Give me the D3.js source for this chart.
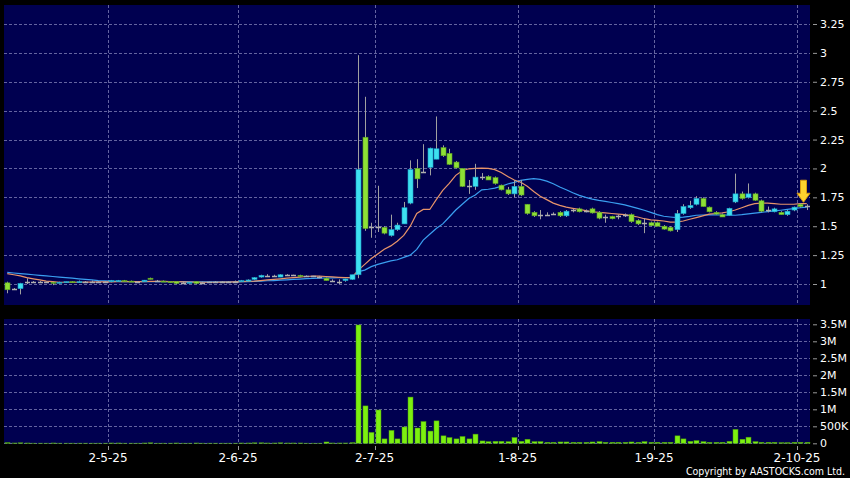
<!DOCTYPE html>
<html><head><meta charset="utf-8">
<script src="https://cdn.jsdelivr.net/npm/d3@7"></script>
<style>html,body{margin:0;padding:0;background:#000;}svg{display:block;}</style>
</head><body>
<svg id="c" width="850" height="478"></svg>
<script>
const opens = [1.01,0.96,0.96,1.02,1.02,1.015,1.02,1.015,1.01,1.015,1.02,1.015,1.02,1.02,1.02,1.02,1.02,1.02,1.03,1.025,1.02,1.02,1.05,1.03,1.025,1.02,1.02,1.01,1.01,1.02,1.01,1.015,1.02,1.02,1.02,1.02,1.02,1.025,1.04,1.06,1.07,1.07,1.06,1.075,1.075,1.075,1.065,1.065,1.06,1.05,1.03,1.02,1.03,1.04,
1.08,2.27,1.49,1.49,1.49,1.42,1.47,1.52,1.70,2.00,1.965,2.01,2.08,2.18,2.13,2.055,2.00,1.85,1.845,1.925,1.93,1.92,1.855,1.815,1.78,1.845,1.69,1.62,1.60,1.60,1.61,1.62,1.59,1.64,1.65,1.63,1.65,1.62,1.58,1.585,1.59,1.595,1.60,1.55,1.53,1.53,1.53,1.50,1.49,1.47,1.61,1.66,1.69,1.74,1.665,1.62,1.60,1.595,1.71,1.78,1.75,1.78,1.72,1.64,1.625,1.62,1.60,1.64,1.69,1.675];
const highs = [1.02,0.965,1.01,1.05,1.025,1.025,1.02,1.02,1.02,1.02,1.025,1.03,1.025,1.03,1.025,1.025,1.035,1.035,1.035,1.03,1.025,1.035,1.055,1.035,1.03,1.025,1.025,1.02,1.02,1.025,1.02,1.02,1.025,1.025,1.025,1.03,1.035,1.04,1.06,1.08,1.085,1.08,1.085,1.085,1.08,1.08,1.075,1.07,1.07,1.055,1.04,1.04,1.045,1.08,
2.98,2.62,1.53,1.85,1.50,1.60,1.53,1.71,2.07,2.08,2.21,2.18,2.45,2.20,2.17,2.065,2.00,1.90,2.04,1.96,1.94,1.93,1.86,1.84,1.90,1.90,1.69,1.63,1.64,1.62,1.62,1.63,1.64,1.65,1.66,1.645,1.66,1.63,1.60,1.59,1.60,1.61,1.61,1.56,1.57,1.54,1.54,1.51,1.50,1.64,1.69,1.72,1.76,1.75,1.67,1.63,1.61,1.66,1.955,1.80,1.87,1.79,1.73,1.67,1.66,1.63,1.64,1.67,1.70,1.69];
const lows = [0.92,0.95,0.91,1.00,1.01,1.01,1.01,0.99,1.005,1.01,1.01,1.01,1.015,1.01,1.015,1.01,1.015,1.02,1.02,1.02,1.015,1.02,1.04,1.02,1.02,1.01,1.00,1.005,1.005,1.00,1.005,1.01,1.01,1.015,1.015,1.015,1.02,1.02,1.035,1.055,1.06,1.065,1.06,1.07,1.07,1.06,1.06,1.06,1.05,1.03,1.02,1.00,1.02,1.035,
1.05,1.46,1.40,1.45,1.43,1.41,1.46,1.52,1.69,1.83,1.96,1.94,2.08,2.10,2.03,2.00,1.84,1.78,1.815,1.90,1.90,1.86,1.81,1.77,1.75,1.76,1.60,1.58,1.56,1.59,1.60,1.58,1.58,1.62,1.62,1.62,1.61,1.56,1.53,1.56,1.56,1.58,1.53,1.51,1.44,1.50,1.50,1.47,1.455,1.45,1.60,1.65,1.68,1.67,1.62,1.60,1.58,1.59,1.70,1.73,1.74,1.72,1.62,1.62,1.62,1.60,1.59,1.63,1.66,1.64];
const closes = [0.95,0.96,1.005,1.02,1.02,1.015,1.02,1.01,1.015,1.02,1.015,1.02,1.02,1.02,1.02,1.02,1.03,1.03,1.025,1.02,1.02,1.033,1.04,1.03,1.02,1.015,1.005,1.01,1.015,1.005,1.01,1.015,1.02,1.02,1.02,1.02,1.03,1.035,1.055,1.075,1.07,1.07,1.08,1.075,1.075,1.065,1.065,1.065,1.06,1.03,1.03,1.02,1.043,1.08,
1.99,1.48,1.49,1.49,1.44,1.47,1.51,1.66,1.99,1.91,1.965,2.175,2.17,2.11,2.035,2.005,1.845,1.85,1.925,1.925,1.90,1.87,1.815,1.78,1.845,1.77,1.61,1.59,1.60,1.60,1.61,1.59,1.63,1.64,1.625,1.63,1.615,1.57,1.58,1.565,1.59,1.595,1.54,1.52,1.53,1.505,1.50,1.475,1.46,1.61,1.67,1.68,1.74,1.67,1.625,1.605,1.58,1.655,1.78,1.74,1.78,1.725,1.63,1.64,1.65,1.60,1.63,1.665,1.67,1.675];
const volumes = [0.02,0.01,0.015,0.01,0.005,0.005,0.005,0.01,0.005,0.005,0.005,0.005,0.005,0.005,0.005,0.005,0.01,0.01,0.005,0.005,0.005,0.01,0.015,0.005,0.005,0.005,0.01,0.005,0.005,0.01,0.005,0.005,0.005,0.005,0.005,0.005,0.01,0.01,0.015,0.015,0.01,0.01,0.015,0.01,0.01,0.01,0.005,0.005,0.005,0.04,0.01,0.01,0.01,0.02,
3.48,1.10,0.32,0.98,0.13,0.38,0.13,0.48,1.36,0.45,0.64,0.36,0.66,0.22,0.17,0.13,0.20,0.13,0.27,0.07,0.05,0.06,0.06,0.05,0.17,0.06,0.12,0.05,0.05,0.03,0.03,0.04,0.04,0.03,0.03,0.03,0.04,0.05,0.03,0.03,0.03,0.03,0.04,0.03,0.05,0.03,0.03,0.03,0.03,0.22,0.13,0.06,0.08,0.05,0.03,0.03,0.03,0.06,0.41,0.12,0.18,0.05,0.03,0.03,0.03,0.02,0.02,0.03,0.03,0.03];
const ma10 = [1.09,1.08,1.07,1.055,1.045,1.035,1.025,1.02,1.015,1.015,1.015,1.015,1.016,1.017,1.018,1.018,1.019,1.02,1.02,1.02,1.02,1.02,1.022,1.022,1.022,1.021,1.02,1.018,1.017,1.016,1.015,1.015,1.015,1.016,1.017,1.018,1.02,1.022,1.025,1.03,1.035,1.04,1.045,1.05,1.055,1.06,1.065,1.068,1.068,1.065,1.062,1.058,1.055,1.055,
1.12,1.17,1.22,1.26,1.30,1.33,1.37,1.42,1.50,1.61,1.645,1.645,1.73,1.81,1.87,1.94,1.98,1.997,2.0,2.003,2.0,1.99,1.965,1.93,1.90,1.88,1.845,1.80,1.76,1.73,1.70,1.68,1.665,1.655,1.645,1.635,1.625,1.62,1.615,1.61,1.605,1.60,1.59,1.58,1.565,1.555,1.55,1.545,1.535,1.535,1.545,1.56,1.575,1.59,1.605,1.61,1.615,1.625,1.64,1.66,1.68,1.695,1.70,1.70,1.695,1.69,1.69,1.69,1.695,1.695];
const ma20 = [1.10,1.095,1.09,1.085,1.08,1.075,1.07,1.065,1.06,1.055,1.05,1.045,1.04,1.035,1.03,1.027,1.025,1.022,1.02,1.02,1.02,1.02,1.02,1.02,1.02,1.02,1.02,1.02,1.019,1.018,1.018,1.018,1.018,1.018,1.018,1.019,1.02,1.02,1.022,1.025,1.028,1.03,1.033,1.036,1.04,1.043,1.046,1.048,1.05,1.052,1.053,1.054,1.055,1.058,
1.107,1.12,1.15,1.17,1.185,1.20,1.21,1.23,1.25,1.30,1.38,1.43,1.48,1.52,1.58,1.64,1.69,1.74,1.77,1.815,1.82,1.83,1.845,1.865,1.88,1.897,1.905,1.911,1.905,1.89,1.868,1.84,1.816,1.79,1.767,1.75,1.735,1.724,1.715,1.705,1.696,1.685,1.67,1.655,1.638,1.62,1.60,1.586,1.58,1.575,1.578,1.585,1.595,1.597,1.598,1.598,1.597,1.596,1.595,1.60,1.607,1.614,1.62,1.627,1.632,1.638,1.645,1.652,1.66,1.666];
const dateTickIndex = [16,36,57,79,100,122];
const dateTickLabels = ["2-5-25","2-6-25","2-7-25","1-8-25","1-9-25","2-10-25"];
const priceTicks = [1,1.25,1.5,1.75,2,2.25,2.5,2.75,3,3.25];
const volTicks = [0,0.5,1,1.5,2,2.5,3,3.5];
const volTickLabels = ["0","500K","1M","1.5M","2M","2.5M","3M","3.5M"];

const svg = d3.select("#c");
const N = closes.length;
const L = 4, R = 810;
const mainTop = 5, mainBot = 305, volTop = 319, volBot = 444;
const x = d3.scaleBand().domain(d3.range(N)).range([L, R]).padding(0);
const bw = 5;
const cx = i => x(i) + x.bandwidth()/2;
const y = d3.scaleLinear().domain([1 - 21/115.56, 1 + 279/115.56]).range([mainBot, mainTop]);
const yv = d3.scaleLinear().domain([-0.02, 3.5 + (324.3-volTop)/34]).range([volBot, volTop]);

svg.append("rect").attr("width",850).attr("height",478).attr("fill","#000");
svg.append("rect").attr("x",L).attr("y",mainTop).attr("width",R-L).attr("height",mainBot-mainTop).attr("fill","#000050");
svg.append("rect").attr("x",L).attr("y",volTop).attr("width",R-L).attr("height",volBot-volTop).attr("fill","#000050");

const gridColor = "#6464a0";
svg.append("g").selectAll("line").data(priceTicks).join("line")
  .attr("x1",L).attr("x2",R).attr("y1",d=>Math.round(y(d))+0.5).attr("y2",d=>Math.round(y(d))+0.5)
  .attr("stroke",gridColor).attr("stroke-dasharray","3,2").attr("stroke-width",1);
svg.append("g").selectAll("line").data(volTicks).join("line")
  .attr("x1",L).attr("x2",R).attr("y1",d=>Math.round(yv(d))+0.5).attr("y2",d=>Math.round(yv(d))+0.5)
  .attr("stroke",gridColor).attr("stroke-dasharray","3,2").attr("stroke-width",1);
[[mainTop,mainBot],[volTop,volBot]].forEach(([t,b])=>{
  svg.append("g").selectAll("line").data(dateTickIndex).join("line")
    .attr("x1",d=>Math.round(x(d))+0.5).attr("x2",d=>Math.round(x(d))+0.5).attr("y1",t).attr("y2",b)
    .attr("stroke",gridColor).attr("stroke-dasharray","3,2").attr("stroke-width",1);
});

const ya = svg.append("g").attr("transform",`translate(${R+3},0)`)
  .call(d3.axisRight(y).tickValues(priceTicks).tickSize(4).tickPadding(3).tickFormat(d=>String(d)));
const va = svg.append("g").attr("transform",`translate(${R+3},0)`)
  .call(d3.axisRight(yv).tickValues(volTicks).tickSize(4).tickPadding(3).tickFormat((d,i)=>volTickLabels[i]));
[ya,va].forEach(g=>{
  g.select(".domain").remove();
  g.selectAll(".tick line").attr("stroke","#999");
  g.selectAll(".tick text").attr("fill","#fff").attr("font-family","DejaVu Sans, Verdana, sans-serif").attr("font-size","11px");
});
const xa = svg.append("g").attr("transform",`translate(0,${volBot+2})`);
xa.selectAll("line").data(dateTickIndex).join("line")
  .attr("x1",d=>Math.round(x(d))+0.5).attr("x2",d=>Math.round(x(d))+0.5).attr("y1",0).attr("y2",4).attr("stroke","#999");
xa.selectAll("text").data(dateTickIndex).join("text")
  .attr("x",d=>x(d)).attr("y",16).attr("text-anchor","middle")
  .attr("fill","#fff").attr("font-family","DejaVu Sans, Verdana, sans-serif").attr("font-size","12px")
  .text((d,i)=>dateTickLabels[i]);

const defs = svg.append("defs");
defs.append("clipPath").attr("id","mclip").append("rect").attr("x",L).attr("y",mainTop).attr("width",R-L).attr("height",mainBot-mainTop);
const gm = svg.append("g").attr("clip-path","url(#mclip)");

const lineGen = arr => d3.line().x((d,i)=>cx(i)).y(d=>y(d))(arr);
gm.append("path").attr("d",lineGen(ma20)).attr("fill","none").attr("stroke","#3a9ff0").attr("stroke-width",1.2);
gm.append("path").attr("d",lineGen(ma10)).attr("fill","none").attr("stroke","#e8946a").attr("stroke-width",1.2);

const data = d3.range(N).map(i=>({i,o:opens[i],h:highs[i],l:lows[i],c:closes[i],v:volumes[i]}));
const kind = d => Math.abs(d.c-d.o) < 0.003 ? "doji" : (d.c > d.o ? "up" : "down");
const col = {up:"#3ee0f0", down:"#8ee036", doji:"#a8a8a8"};
const stroke = {up:"#1aa0c8", down:"#5aa020", doji:"#a8a8a8"};
const cg = gm.append("g");
cg.selectAll("line.w").data(data).join("line").attr("class","w")
  .attr("x1",d=>Math.round(cx(d.i))+0.5).attr("x2",d=>Math.round(cx(d.i))+0.5)
  .attr("y1",d=>y(d.h)).attr("y2",d=>y(d.l)).attr("stroke","#a0a0a0").attr("stroke-width",1);
cg.selectAll("rect.b").data(data.filter(d=>kind(d)!=="doji")).join("rect").attr("class","b")
  .attr("x",d=>Math.round(cx(d.i))-2).attr("width",bw)
  .attr("y",d=>y(Math.max(d.o,d.c))).attr("height",d=>Math.max(1,Math.abs(y(d.o)-y(d.c))))
  .attr("fill",d=>col[kind(d)]).attr("stroke",d=>stroke[kind(d)]).attr("stroke-width",0.6);
cg.selectAll("line.d").data(data.filter(d=>kind(d)==="doji")).join("line").attr("class","d")
  .attr("x1",d=>Math.round(cx(d.i))-2).attr("x2",d=>Math.round(cx(d.i))+3)
  .attr("y1",d=>Math.round(y(d.c))+0.5).attr("y2",d=>Math.round(y(d.c))+0.5)
  .attr("stroke","#b0b0b0").attr("stroke-width",1.5);

const ax = (cx(N-2)+cx(N-1))/2, ay = y(highs[N-1]);
const ap = `M${ax-3},${ay-24} L${ax+3},${ay-24} L${ax+3},${ay-11} L${ax+6.5},${ay-11} L${ax},${ay-2} L${ax-6.5},${ay-11} L${ax-3},${ay-11} Z`;
svg.append("path").attr("d",ap).attr("fill","#ffd22e").attr("stroke","#d89a10").attr("stroke-width",1);

svg.append("g").selectAll("rect").data(data).join("rect")
  .attr("x",d=>Math.round(cx(d.i))-2).attr("width",bw)
  .attr("y",d=>yv(d.v)).attr("height",d=>Math.max(0,yv(0)-yv(d.v)))
  .attr("fill","#7cf010").attr("stroke","#4a9a08").attr("stroke-width",0.5);

svg.append("text").attr("x",845).attr("y",475).attr("text-anchor","end")
  .attr("fill","#fff").attr("font-family","DejaVu Sans Condensed, DejaVu Sans, sans-serif").attr("font-size","10.5px")
  .text("Copyright by AASTOCKS.com Ltd.");
</script>
</body></html>
